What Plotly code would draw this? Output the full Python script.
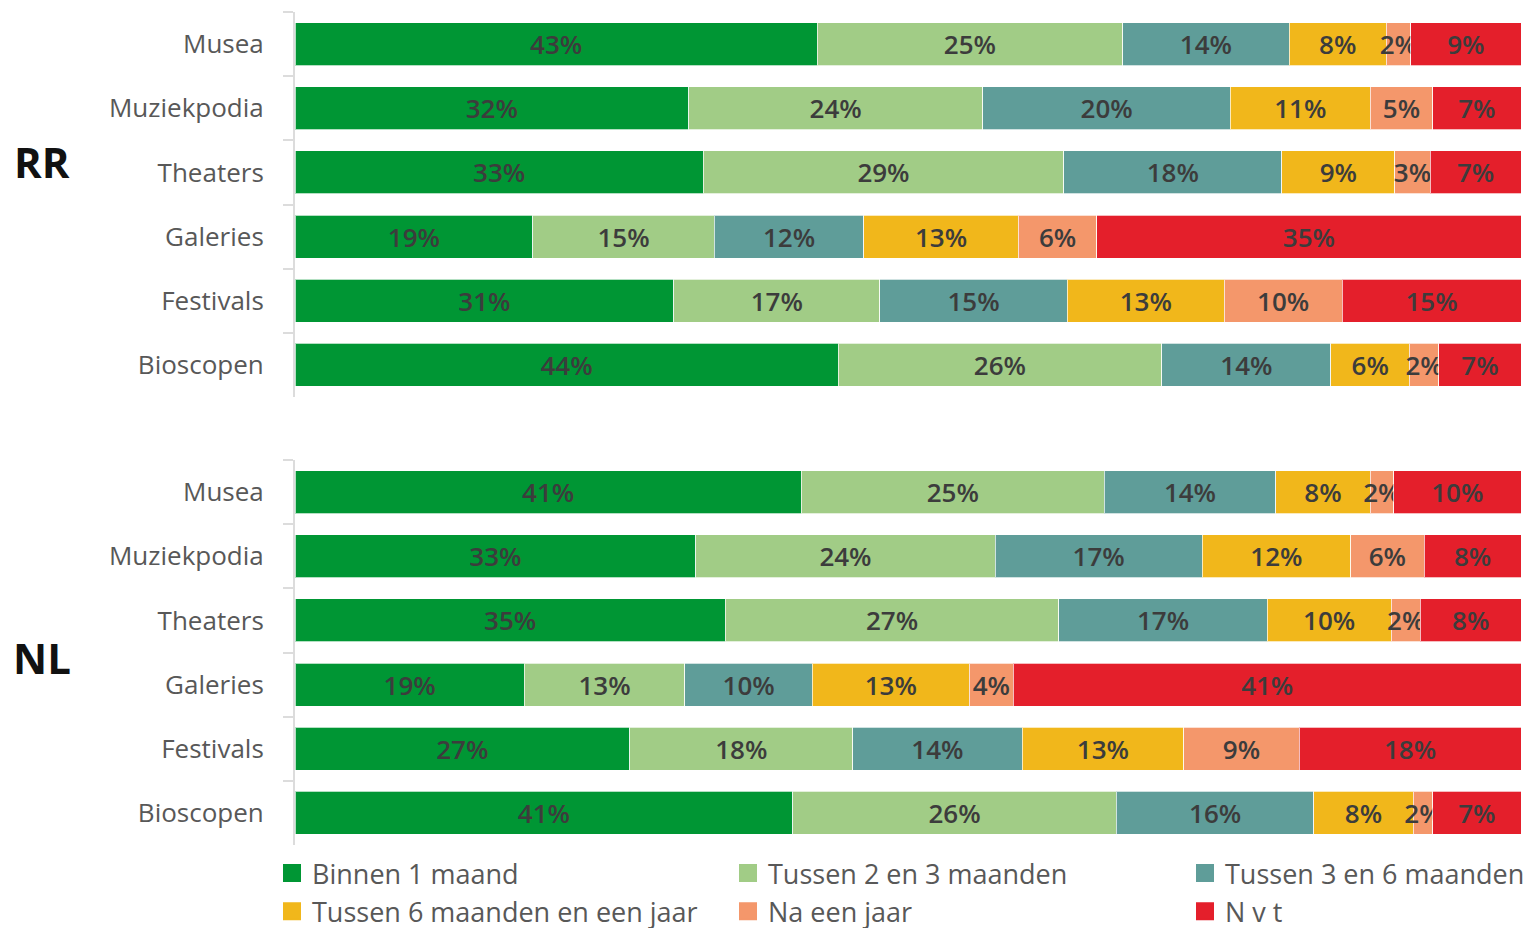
import plotly.graph_objects as go

categories = ["Musea", "Muziekpodia", "Theaters", "Galeries", "Festivals", "Bioscopen"]
series_names = ["Binnen 1 maand", "Tussen 2 en 3 maanden", "Tussen 3 en 6 maanden",
                "Tussen 6 maanden en een jaar", "Na een jaar", "N v t"]
series_colors = ["#009634", "#A1CC86", "#5F9D99", "#F1B71B", "#F4976B", "#E41F2B"]

# RR values (%) per series, in category order
rr_binnen = [42.6, 32.1, 33.3, 19.4, 30.9, 44.3]
rr_2_3 = [24.9, 24.0, 29.4, 14.8, 16.8, 26.4]
rr_3_6 = [13.6, 20.2, 17.8, 12.2, 15.3, 13.8]
rr_6_12 = [7.9, 11.4, 9.2, 12.6, 12.8, 6.4]
rr_jaar = [2.0, 5.1, 2.9, 6.4, 9.6, 2.4]
rr_nvt = [9.0, 7.2, 7.4, 34.6, 14.6, 6.7]

# NL values (%) per series, in category order
nl_binnen = [41.3, 32.7, 35.1, 18.7, 27.3, 40.6]
nl_2_3 = [24.7, 24.4, 27.2, 13.1, 18.2, 26.4]
nl_3_6 = [14.0, 16.9, 17.0, 10.4, 13.8, 16.1]
nl_6_12 = [7.7, 12.1, 10.1, 12.8, 13.2, 8.1]
nl_jaar = [1.9, 6.0, 2.4, 3.6, 9.4, 1.6]
nl_nvt = [10.4, 7.9, 8.2, 41.4, 18.1, 7.2]

group_labels = ["RR", "NL"]

rr_series = [rr_binnen, rr_2_3, rr_3_6, rr_6_12, rr_jaar, rr_nvt]
nl_series = [nl_binnen, nl_2_3, nl_3_6, nl_6_12, nl_jaar, nl_nvt]

# legend column assignment (3 columns, 2 rows)
legend_of_series = ["legend", "legend2", "legend3", "legend", "legend2", "legend3"]

FONT = "Open Sans"
fig = go.Figure()

for i, name in enumerate(series_names):
    for axis_id, data in (("y", rr_series[i]), ("y2", nl_series[i])):
        fig.add_trace(go.Bar(
            x=data, y=categories, orientation="h", name=name,
            yaxis=axis_id, xaxis="x" if axis_id == "y" else "x2",
            marker=dict(color=series_colors[i], line=dict(color="rgba(255,255,255,0.7)", width=1)),
            texttemplate="%{x:.0f}%", textposition="inside", insidetextanchor="middle",
            textangle=0, constraintext="none",
            textfont=dict(family=FONT, size=26, color="#3c3c3c", weight=600),
            showlegend=False, legendgroup=name, hoverinfo="skip",
        ))

# legend entries (square markers)
for i, name in enumerate(series_names):
    fig.add_trace(go.Scatter(
        x=[None], y=[None], mode="markers", name=name, legendgroup=name,
        legend=legend_of_series[i],
        marker=dict(symbol="square", size=16, color=series_colors[i],
                    line=dict(color=series_colors[i], width=2)),
        hoverinfo="skip",
    ))

W, H = 1532, 928
mt, mb, ml, mr = 12, 83, 295, 11
ph = H - mt - mb
pw = W - ml - mr

def fy(px_from_top):
    return (H - mb - px_from_top) / ph

def fx(px_from_left):
    return (px_from_left - ml) / pw

yaxis_common = dict(
    type="category", categoryorder="array", categoryarray=categories,
    autorange="reversed", showline=True, linecolor="#dcdcdc", linewidth=2,
    ticks="outside", tickson="boundaries", ticklen=10, tickcolor="#dcdcdc", tickwidth=2,
    tickfont=dict(family=FONT, size=26, color="#585858"), ticklabelstandoff=24,
    showgrid=False, zeroline=False,
)
xaxis_common = dict(range=[0, 100], visible=False, showgrid=False, zeroline=False, fixedrange=True)

legend_common = dict(
    orientation="v", yanchor="top", xanchor="left", y=fy(849),
    font=dict(family=FONT, size=27, color="#585858"),
    itemwidth=30, traceorder="normal", tracegroupgap=3, bgcolor="rgba(0,0,0,0)",
)

fig.update_layout(
    width=W, height=H,
    margin=dict(t=mt, b=mb, l=ml, r=mr, autoexpand=False),
    plot_bgcolor="white", paper_bgcolor="white",
    barmode="stack", bargap=0.33,
    xaxis=dict(domain=[0, 1], anchor="y", **xaxis_common),
    xaxis2=dict(domain=[0, 1], anchor="y2", **xaxis_common),
    yaxis=dict(domain=[fy(397), 1.0], anchor="x", **yaxis_common),
    yaxis2=dict(domain=[0.0, fy(460)], anchor="x2", **yaxis_common),
    uniformtext=dict(minsize=26, mode="show"),
    legend=dict(x=fx(272), **legend_common),
    legend2=dict(x=fx(728), **legend_common),
    legend3=dict(x=fx(1185), **legend_common),
    font=dict(family=FONT),
)

for label, ypx in zip(group_labels, (161, 657)):
    fig.add_annotation(text="<b>" + label + "</b>", xref="paper", yref="paper",
                       x=fx(42), y=fy(ypx), xanchor="center", yanchor="middle",
                       showarrow=False,
                       font=dict(family=FONT, size=42, color="#111111"))

fig.write_html(
    "out.html",
    config={"displayModeBar": False},
    post_script="document.body.style.margin='0';document.body.style.overflow='hidden';",
)
